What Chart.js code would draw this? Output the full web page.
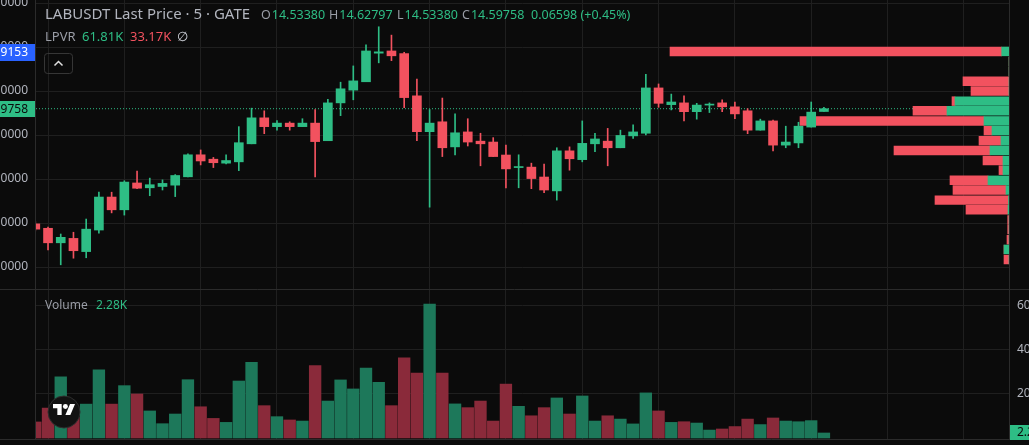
<!DOCTYPE html>
<html>
<head>
<meta charset="utf-8">
<script src="https://cdn.jsdelivr.net/npm/chart.js@4.4.1/dist/chart.umd.min.js"></script>
<style>
html,body{margin:0;padding:0;background:#0b0b0b;overflow:hidden;}
canvas{display:block;}
</style>
</head>
<body>
<canvas id="chart" width="1029" height="445"></canvas>
<script>
// ---------------- data ----------------
const barIndex = [0,1,2,3,4,5,6,7,8,9,10,11,12,13,14,15,16,17,18,19,20,21,22,23,24,25,26,27,28,29,30,31,32,33,34,35,36,37,38,39,40,41,42,43,44,45,46,47,48,49,50,51,52,53,54,55,56,57,58,59,60,61,62];
const opens  = [11.98,11.88,11.55,11.65,11.35,11.84,12.59,12.30,12.91,12.80,12.83,12.86,13.05,13.55,13.45,13.36,13.39,13.80,14.39,14.19,14.27,14.19,14.27,13.87,14.73,15.02,15.21,15.86,15.91,15.85,14.89,14.075,14.30,13.73,14.07,13.86,13.84,13.545,13.26,13.27,13.045,12.73,13.64,13.44,13.80,13.86,13.71,13.98,14.04,15.07,14.69,14.73,14.53,14.68,14.73,14.64,14.55,14.11,14.32,13.77,13.82,14.18,14.5338];
const highs  = [12.03,11.91,11.75,11.79,12.09,12.70,12.70,12.96,13.18,13.02,12.98,13.10,13.57,13.66,13.49,13.55,14.19,14.61,14.55,14.325,14.30,14.37,14.58,14.81,15.20,15.57,16.05,16.46,16.27,15.88,15.27,14.58,14.84,14.48,14.37,14.04,13.94,13.77,13.55,13.36,13.34,13.71,13.73,14.32,14.04,14.15,14.11,14.23,15.38,15.16,14.93,14.89,14.72,14.73,14.80,14.75,14.60,14.36,14.34,14.20,14.29,14.75,14.62797];
const lows   = [11.82,11.39,11.05,11.20,11.21,11.77,12.23,12.18,12.78,12.62,12.75,12.60,13.05,13.32,13.26,13.34,13.19,13.80,14.03,14.11,14.11,14.19,13.05,13.87,14.44,14.80,15.21,15.64,15.69,14.62,13.87,12.36,13.51,13.55,13.75,13.30,13.51,12.80,12.80,12.78,12.69,12.52,13.20,13.39,13.62,13.30,13.71,13.92,14.00,14.63,14.57,14.32,14.36,14.51,14.53,14.37,14.03,14.11,13.64,13.71,13.71,14.18,14.5338];
const closes = [11.86,11.55,11.675,11.37,11.86,12.59,12.30,12.93,12.79,12.87,12.90,13.08,13.55,13.41,13.37,13.42,13.825,14.39,14.19,14.27,14.19,14.27,13.85,14.73,15.05,15.23,15.91,15.89,15.80,14.85,14.075,14.27,13.71,14.05,13.84,13.80,13.51,13.23,13.28,13.01,12.75,13.64,13.46,13.81,13.91,13.71,13.99,14.07,15.07,14.72,14.75,14.53,14.68,14.70,14.64,14.48,14.11,14.32,13.77,13.84,14.20,14.52,14.59758];
const volumesK = [7.3,13.6,27.8,9.5,15.4,31.0,15.4,23.8,20.0,12.3,6.5,10.9,26.5,14.2,8.9,7.1,25.9,34.4,14.7,9.7,8.2,7.7,32.9,16.8,26.4,22.3,31.8,25.3,14.7,36.4,29.5,60.9,29.5,15.5,13.8,16.8,7.7,24.5,14.4,10.1,13.8,18.2,10.9,19.1,7.7,10.1,8.6,6.4,20.5,12.3,7.1,7.4,6.8,3.6,4.1,5.2,8.6,6.1,9.1,7.7,7.4,7.9,2.28];

// volume profile rows (price of row, up volume, down volume; relative units)
const vpPrices = [15.90,15.67,15.45,15.22,15.00,14.77,14.55,14.32,14.10,13.87,13.65,13.42,13.20,12.97,12.75,12.52,12.30,12.07,11.85,11.62,11.40,11.17];
const vpUp     = [0.73,0,0,0,0,5.4,6.2,2.5,1.7,0.8,1.9,0.6,0.6,2.1,0.3,0.05,0.1,0,0,0,0.5,0];
const vpDown   = [33.17,0,0,4.6,3.8,0.3,3.4,18.4,0.8,2.2,9.6,2.0,0.4,3.8,5.3,7.35,4.2,0.13,0.13,0.2,0,0.5];

const priceTicks  = [11,12,13,14,15,16,17];
const volumeTicks = [20,40,60];
const timeGridIdx = [1,7,13,19,25,31,37,43,49,55,61,67,73];

const lastClose = 14.59758;
const markPrice = 15.89153;
const lastVolumeK = 2.28;

const titleText = 'LABUSDT Last Price · 5 · GATE';
const ohlcText = [['O','14.53380'],['H','14.62797'],['L','14.53380'],['C','14.59758']];
const changeText = '0.06598 (+0.45%)';
const lpvrText = ['LPVR','61.81K','33.17K','∅'];
const volumeLegend = ['Volume','2.28K'];

// ---------------- style ----------------
const BG = '#0b0b0b';
const GRID = '#1f1f1f';
const SEP = '#2b2b2b';
const GREEN = '#2ebd85';
const RED = '#f2525f';
const VOL_GREEN = '#1d785a';
const VOL_RED = '#8a2a3a';
const TXT = '#b2b5be';
const TXT_DIM = '#9a9da6';
const FONT = "'Noto Sans', 'Open Sans', sans-serif";

const isUp = closes.map((c, i) => c >= opens[i]);
const candleColor = isUp.map(u => u ? GREEN : RED);

const ctx = document.getElementById('chart').getContext('2d');

const decor = {
  id: 'decor',
  beforeDraw(chart) {
    const c = chart.ctx;
    c.save();
    c.fillStyle = BG;
    c.fillRect(0, 0, chart.width, chart.height);
    c.restore();
  },
  afterDraw(chart) {
    const c = chart.ctx;
    const a = chart.chartArea;
    const yS = chart.scales.y;
    const vS = chart.scales.yv;
    c.save();
    // pane separators & borders
    c.strokeStyle = SEP;
    c.lineWidth = 1;
    c.beginPath();
    c.moveTo(0, 289.5); c.lineTo(chart.width, 289.5);
    c.moveTo(0, a.bottom + 0.5); c.lineTo(chart.width, a.bottom + 0.5);
    c.moveTo(a.left - 0.5, 0); c.lineTo(a.left - 0.5, a.bottom);
    c.moveTo(a.right + 0.5, 0); c.lineTo(a.right + 0.5, a.bottom);
    c.stroke();

    // price-axis labels (mark + last)
    c.font = '12px ' + FONT;
    c.textBaseline = 'middle';
    c.textAlign = 'right';
    let py = yS.getPixelForValue(markPrice);
    c.fillStyle = '#2962ff';
    c.fillRect(0, Math.round(py) - 8, a.left - 1, 17);
    c.fillStyle = '#ffffff';
    c.fillText(markPrice.toFixed(5), a.left - 8, py + 0.5);
    py = yS.getPixelForValue(lastClose);
    c.fillStyle = GREEN;
    c.fillRect(0, Math.round(py) - 8, a.left - 1, 16);
    c.fillStyle = '#0b0b0b';
    c.fillText(lastClose.toFixed(5), a.left - 8, py + 0.5);

    // volume axis last label
    const vy = vS.getPixelForValue(lastVolumeK);
    c.fillStyle = GREEN;
    c.fillRect(a.right + 1, Math.round(vy) - 8, 30, 15);
    c.fillStyle = '#0b0b0b';
    c.textAlign = 'left';
    c.fillText(lastVolumeK.toFixed(2) + 'K', a.right + 8, vy);

    // header line 1
    c.textAlign = 'left';
    c.font = '15px ' + FONT;
    c.fillStyle = TXT;
    c.fillText(titleText, 45, 15);
    c.font = '12.5px ' + FONT;
    const ohlcX = [261, 329, 397, 462];
    ohlcText.forEach((p, i) => {
      c.fillStyle = TXT_DIM;
      c.fillText(p[0], ohlcX[i], 15);
      c.fillStyle = GREEN;
      c.fillText(p[1], ohlcX[i] + c.measureText(p[0]).width + 1, 15);
    });
    c.fillStyle = GREEN;
    c.fillText(changeText, 531, 15);

    // header line 2
    c.font = '13px ' + FONT;
    c.fillStyle = TXT_DIM; c.fillText(lpvrText[0], 45, 37.5);
    c.fillStyle = GREEN;   c.fillText(lpvrText[1], 82, 37.5);
    c.fillStyle = RED;     c.fillText(lpvrText[2], 130, 37.5);
    c.fillStyle = '#d1d4dc'; c.fillText(lpvrText[3], 177, 37.5);

    // collapse button
    c.strokeStyle = '#363636';
    c.lineWidth = 1;
    c.beginPath();
    if (c.roundRect) c.roundRect(44.5, 53.5, 28, 20, 3); else c.rect(44.5, 53.5, 28, 20);
    c.stroke();
    c.strokeStyle = '#e0e0e0';
    c.lineWidth = 1.5;
    c.beginPath();
    c.moveTo(54.5, 65.5); c.lineTo(58.5, 61.5); c.lineTo(62.5, 65.5);
    c.stroke();

    // volume legend
    c.font = '12px ' + FONT;
    c.fillStyle = TXT_DIM; c.fillText(volumeLegend[0], 45, 306);
    c.fillStyle = GREEN;   c.fillText(volumeLegend[1], 96, 306);

    // logo badge
    c.beginPath();
    c.arc(64, 412, 16, 0, Math.PI * 2);
    c.fillStyle = '#121212';
    c.fill();
    c.strokeStyle = '#2e2e2e';
    c.lineWidth = 1;
    c.stroke();
    c.translate(64 - 17.75 * 0.62, 409.5 - 13 * 0.62);
    c.scale(0.62, 0.62);
    c.fillStyle = '#ffffff';
    c.fill(new Path2D('M14 22H7V11H0V4h14v18zM28 22h-8l7.5-18h8L28 22z'));
    c.beginPath();
    c.arc(20, 8, 4, 0, Math.PI * 2);
    c.fill();
    c.restore();
  }
};

const fixW = w => s => { s.width = w; s.paddingTop = 0; s.paddingBottom = 0; };

new Chart(ctx, {
  type: 'bar',
  data: {
    datasets: [
      {
        label: 'bodies', order: 0, grouped: false,
        xAxisID: 'x', yAxisID: 'y',
        data: barIndex.map(i => ({ x: i, y: [opens[i], closes[i]] })),
        backgroundColor: candleColor,
        barThickness: 9, minBarLength: 1
      },
      {
        label: 'wicks', order: 1, grouped: false,
        xAxisID: 'x', yAxisID: 'y',
        data: barIndex.map(i => ({ x: i, y: [lows[i], highs[i]] })),
        backgroundColor: candleColor,
        barThickness: 1
      },
      {
        label: 'vp up', order: 2, grouped: false, indexAxis: 'y',
        xAxisID: 'xvp', yAxisID: 'y',
        data: vpPrices.map((p, i) => ({ y: p, x: [0, vpUp[i]] })),
        backgroundColor: GREEN,
        barThickness: 8.8
      },
      {
        label: 'vp down', order: 2, grouped: false, indexAxis: 'y',
        xAxisID: 'xvp', yAxisID: 'y',
        data: vpPrices.map((p, i) => ({ y: p, x: [vpUp[i], vpUp[i] + vpDown[i]] })),
        backgroundColor: RED,
        barThickness: 8.8
      },
      {
        type: 'line', label: 'last', order: 3,
        xAxisID: 'x', yAxisID: 'y',
        data: [{ x: 0.055, y: lastClose }, { x: 76.55, y: lastClose }],
        borderColor: GREEN, borderWidth: 1, borderDash: [1, 2],
        pointRadius: 0, fill: false
      },
      {
        label: 'volume', order: 4, grouped: false,
        xAxisID: 'x', yAxisID: 'yv',
        data: barIndex.map(i => ({ x: i, y: volumesK[i] })),
        backgroundColor: isUp.map(u => u ? VOL_GREEN : VOL_RED),
        barThickness: 11.7
      }
    ]
  },
  options: {
    responsive: false,
    devicePixelRatio: 1,
    animation: false,
    events: [],
    layout: { padding: { top: 0, left: 0, right: 0, bottom: 6 } },
    plugins: { legend: { display: false }, tooltip: { enabled: false } },
    scales: {
      x: {
        type: 'linear', axis: 'x', position: 'bottom', min: 0.055, max: 76.55, offset: false,
        afterBuildTicks: s => { s.ticks = timeGridIdx.map(v => ({ value: v })); },
        afterFit: s => { s.height = 0; s.paddingLeft = 0; s.paddingRight = 0; },
        grid: { color: GRID, drawTicks: false, offset: false },
        border: { display: false },
        ticks: { display: false }
      },
      y: {
        type: 'linear', axis: 'y', position: 'left', min: 7.0909, max: 17.0682, offset: false,
        afterBuildTicks: s => { s.ticks = priceTicks.map(v => ({ value: v })); },
        afterFit: fixW(36),
        grid: { color: GRID, drawTicks: false, offset: false },
        border: { display: false },
        ticks: {
          color: TXT, padding: 8, autoSkip: false,
          font: { family: FONT, size: 12 },
          callback: v => Number(v).toFixed(5)
        }
      },
      yv: {
        type: 'linear', axis: 'y', position: 'right', min: -0.4545, max: 199.09, offset: false,
        afterBuildTicks: s => { s.ticks = volumeTicks.map(v => ({ value: v })); },
        afterFit: fixW(20),
        grid: { color: GRID, drawTicks: false, offset: false },
        border: { display: false },
        ticks: {
          color: TXT, padding: 8, autoSkip: false,
          font: { family: FONT, size: 12 },
          callback: v => v + 'K'
        }
      },
      xvp: {
        type: 'linear', axis: 'x', display: false, reverse: true, min: 0, max: 97.3, offset: false
      }
    }
  },
  plugins: [decor]
});
</script>
</body>
</html>
